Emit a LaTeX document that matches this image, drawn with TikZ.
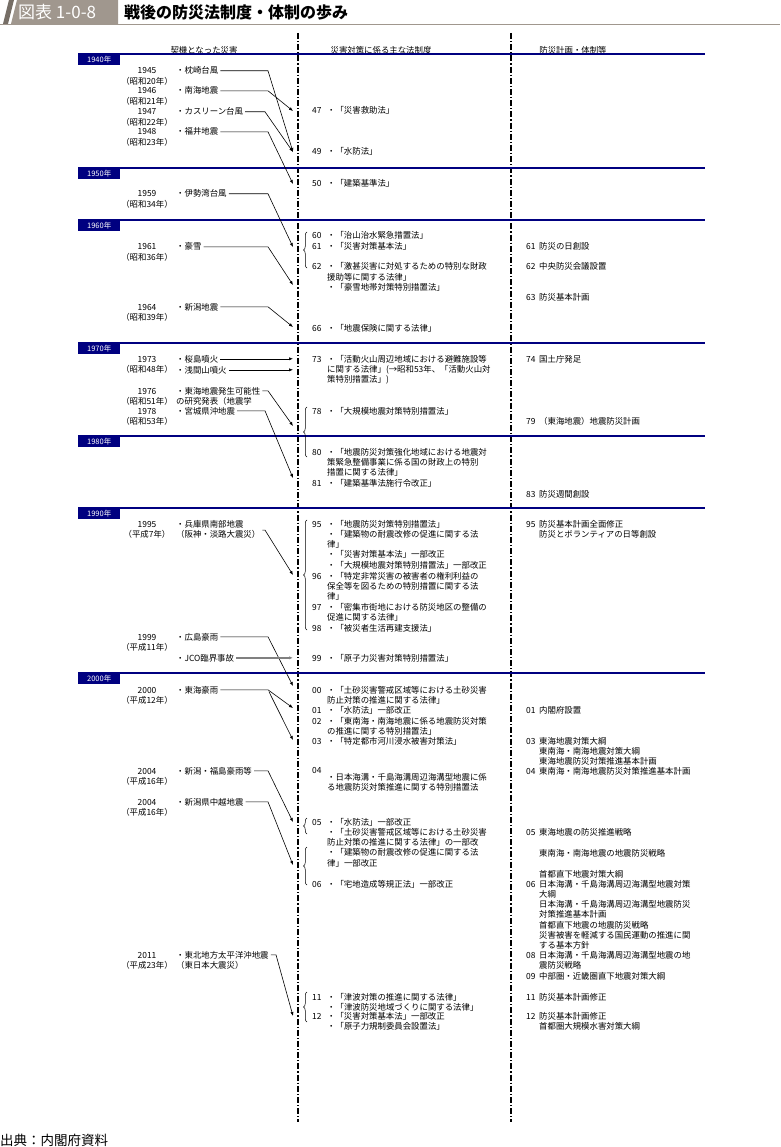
\documentclass[tikz,border=0pt]{standalone}
\usepackage{fontspec}
\setmainfont{Noto Sans CJK JP}
\usetikzlibrary{arrows.meta,decorations.pathreplacing}
\definecolor{decblue}{RGB}{0,0,128}
\definecolor{headgray}{RGB}{160,151,142}
\definecolor{headdark}{RGB}{118,110,102}
\newcommand{\yearlines}[1]{\begin{tabular}[t]{@{}c@{}}#1\end{tabular}}
\newcommand{\textlines}[1]{\begin{tabular}[t]{@{}l@{}}#1\end{tabular}}
\newcommand{\lawlines}[1]{\begin{tabular}[t]{@{}p{15pt}@{}l@{}}#1\end{tabular}}
\newcommand{\planlines}[1]{\begin{tabular}[t]{@{}p{13pt}@{}l@{}}#1\end{tabular}}
\tikzset{
  body/.style={font=\fontsize{8.4}{10.3}\selectfont, inner sep=0pt},
  txt/.style={body, anchor=base west, yshift=-3pt},
  yearlab/.style={body, anchor=base, yshift=-3pt},
  arrowline/.style={line width=0.6pt, shorten <=2pt, -{Latex[length=4pt,width=3.2pt]}},
  lawbrace/.style={decorate, decoration={brace, amplitude=3.5pt}, line width=0.5pt},
  columnsep/.style={line width=1.1pt, dash pattern=on 6pt off 2pt on 1.2pt off 2pt},
  decade/.style={fill=decblue, text=white, font=\fontsize{7.5}{8}\selectfont,
    minimum width=42pt, minimum height=11pt, inner sep=0pt, anchor=north west},
}
\begin{document}
\begin{tikzpicture}[x=1pt, y=-1pt]
\useasboundingbox (0,0) rectangle (780,1147);
% header
\fill[headgray] (11,24) -- (17,0) -- (118,0) -- (118,24) -- cycle;
\fill[headdark] (3,24) -- (9,0) -- (14,0) -- (8,24) -- cycle;
\draw[headgray, line width=0.8pt] (0,24.5) -- (780,24.5);
\node[inner sep=0pt, anchor=west, text=white, font=\fontsize{17}{18}\selectfont] (fig-no) at (18,12.5) {図表 1-0-8};
\node[inner sep=0pt, anchor=west, font=\bfseries\fontsize{16}{18}\selectfont] (fig-title) at (124,12.5) {戦後の防災法制度・体制の歩み};

% column heads and separators
\node[body] (head-cause) at (204,50) {契機となった災害};
\node[body] (head-law) at (381,50) {災害対策に係る主な法制度};
\node[body] (head-plan) at (573,50) {防災計画・体制等};
\draw[columnsep] (298,33) -- (298,1122);
\draw[columnsep] (511,33) -- (511,1122);

% decades
\foreach \y/\dec in {54/1940,168/1950,220/1960,343/1970,436/1980,508/1990,673/2000} {
  \draw[decblue, line width=2.6pt] (78,\y) -- (705,\y);
  \node[decade] (dec-\dec) at (78,\y) {\dec 年};
}

% years
\foreach \y/\yr/\era [count=\i] in {71/1945/昭和20年, 91/1946/昭和21年, 112/1947/昭和22年,
    132/1948/昭和23年, 194/1959/昭和34年, 247/1961/昭和36年, 307/1964/昭和39年,
    359/1973/昭和48年, 391/1976/昭和51年, 411/1978/昭和53年, 524/1995/平成7年,
    637/1999/平成11年, 690/2000/平成12年, 771/2004/平成16年, 802/2004/平成16年,
    955/2011/平成23年} {
  \node[yearlab] (year-\i) at (147,\y) {\yearlines{\yr\\（\era）}};
}

% disasters
\node[txt] (makurazaki) at (176,71) {・枕崎台風};
\node[txt] (nankai) at (176,91) {・南海地震};
\node[txt] (kathleen) at (176,112) {・カスリーン台風};
\node[txt] (fukui) at (176,132) {・福井地震};
\node[txt] (isewan) at (176,194) {・伊勢湾台風};
\node[txt] (gosetsu) at (176,247) {・豪雪};
\node[txt] (niigata) at (176,307) {・新潟地震};
\node[txt] (sakurajima) at (176,359) {・桜島噴火};
\node[txt] (asamayama) at (176,370) {・浅間山噴火};
\node[txt] (tokai) at (176,391) {・東海地震発生可能性};
\node[txt] (tokai-2) at (176,401) {の研究発表（地震学};
\node[txt] (miyagi) at (176,411) {・宮城県沖地震};
\node[txt] (hyogo) at (176,524) {\textlines{・兵庫県南部地震\\（阪神・淡路大震災）}};
\node[txt] (hiroshima) at (176,637) {・広島豪雨};
\node[txt] (jco) at (176,658) {・JCO臨界事故};
\node[txt] (tokaigou) at (176,690) {・東海豪雨};
\node[txt] (niifuku) at (176,771) {・新潟・福島豪雨等};
\node[txt] (chuetsu) at (176,802) {・新潟県中越地震};
\node[txt] (tohoku) at (176,955) {・東北地方太平洋沖地震};
\node[txt] (tohoku-2) at (176,965) {（東日本大震災）};

% laws
\node[txt] (law-47) at (312,111) {\lawlines{47&・「災害救助法」}};
\node[txt] (law-49) at (312,152) {\lawlines{49&・「水防法」}};
\node[txt] (law-50) at (312,184) {\lawlines{50&・「建築基準法」}};
\node[txt] (law-60) at (312,236) {\lawlines{60&・「治山治水緊急措置法」}};
\node[txt] (law-61) at (312,247) {\lawlines{61&・「災害対策基本法」}};
\node[txt] (law-62) at (312,267) {\lawlines{62&・「激甚災害に対処するための特別な財政\\&援助等に関する法律」\\&・「豪雪地帯対策特別措置法」}};
\node[txt] (law-66) at (312,328) {\lawlines{66&・「地震保険に関する法律」}};
\node[txt] (law-73) at (312,359) {\lawlines{73&・「活動火山周辺地域における避難施設等\\&に関する法律」(→昭和53年、「活動火山対\\&策特別措置法」)}};
\node[txt] (law-78) at (312,411) {\lawlines{78&・「大規模地震対策特別措置法」}};
\node[txt] (law-80) at (312,452) {\lawlines{80&・「地震防災対策強化地域における地震対\\&策緊急整備事業に係る国の財政上の特別\\&措置に関する法律」}};
\node[txt] (law-81) at (312,483) {\lawlines{81&・「建築基準法施行令改正」}};
\node[txt] (law-95) at (312,524) {\lawlines{95&・「地震防災対策特別措置法」\\&・「建築物の耐震改修の促進に関する法\\&律」\\&・「災害対策基本法」一部改正\\&・「大規模地震対策特別措置法」一部改正}};
\node[txt] (law-96) at (312,576) {\lawlines{96&・「特定非常災害の被害者の権利利益の\\&保全等を図るための特別措置に関する法\\&律」}};
\node[txt] (law-97) at (312,607) {\lawlines{97&・「密集市街地における防災地区の整備の\\&促進に関する法律」}};
\node[txt] (law-98) at (312,628) {\lawlines{98&・「被災者生活再建支援法」}};
\node[txt] (law-99) at (312,658) {\lawlines{99&・「原子力災害対策特別措置法」}};
\node[txt] (law-00) at (312,690) {\lawlines{00&・「土砂災害警戒区域等における土砂災害\\&防止対策の推進に関する法律」}};
\node[txt] (law-01) at (312,710) {\lawlines{01&・「水防法」一部改正}};
\node[txt] (law-02) at (312,721) {\lawlines{02&・「東南海・南海地震に係る地震防災対策\\&の推進に関する特別措置法」}};
\node[txt] (law-03) at (312,741) {\lawlines{03&・「特定都市河川浸水被害対策法」}};
\node[txt] (law-04) at (312,770) {04};
\node[txt] (law-04-text) at (327,777) {\textlines{・日本海溝・千島海溝周辺海溝型地震に係\\る地震防災対策推進に関する特別措置法}};
\node[txt] (law-05) at (312,822) {\lawlines{05&・「水防法」一部改正\\&・「土砂災害警戒区域等における土砂災害\\&防止対策の推進に関する法律」の一部改\\&・「建築物の耐震改修の促進に関する法\\&律」一部改正}};
\node[txt] (law-06) at (312,884) {\lawlines{06&・「宅地造成等規正法」一部改正}};
\node[txt] (law-11) at (312,997) {\lawlines{11&・「津波対策の推進に関する法律」\\&・「津波防災地域づくりに関する法律」}};
\node[txt] (law-12) at (312,1016) {\lawlines{12&・「災害対策基本法」一部改正\\&・「原子力規制委員会設置法」}};

% plans
\node[txt] (plan-61) at (526,247) {\planlines{61&防災の日創設}};
\node[txt] (plan-62) at (526,267) {\planlines{62&中央防災会議設置}};
\node[txt] (plan-63) at (526,298) {\planlines{63&防災基本計画}};
\node[txt] (plan-74) at (526,359) {\planlines{74&国土庁発足}};
\node[txt] (plan-79) at (526,421) {\planlines{79&（東海地震）地震防災計画}};
\node[txt] (plan-83) at (526,494) {\planlines{83&防災週間創設}};
\node[txt] (plan-95) at (526,524) {\planlines{95&防災基本計画全面修正\\&防災とボランティアの日等創設}};
\node[txt] (plan-01) at (526,710) {\planlines{01&内閣府設置}};
\node[txt] (plan-03) at (526,741) {\planlines{03&東海地震対策大綱\\&東南海・南海地震対策大綱\\&東海地震防災対策推進基本計画}};
\node[txt] (plan-04) at (526,771) {\planlines{04&東南海・南海地震防災対策推進基本計画}};
\node[txt] (plan-05) at (526,832) {\planlines{05&東海地震の防災推進戦略}};
\node[txt] (plan-05b) at (539,853) {東南海・南海地震の地震防災戦略};
\node[txt] (plan-05c) at (539,874) {首都直下地震対策大綱};
\node[txt] (plan-06) at (526,884) {\planlines{06&日本海溝・千島海溝周辺海溝型地震対策\\&大綱\\&日本海溝・千島海溝周辺海溝型地震防災\\&対策推進基本計画\\&首都直下地震の地震防災戦略\\&災害被害を軽減する国民運動の推進に関\\&する基本方針}};
\node[txt] (plan-08) at (526,955) {\planlines{08&日本海溝・千島海溝周辺海溝型地震の地\\&震防災戦略}};
\node[txt] (plan-09) at (526,976) {\planlines{09&中部圏・近畿圏直下地震対策大綱}};
\node[txt] (plan-11) at (526,997) {\planlines{11&防災基本計画修正}};
\node[txt] (plan-12) at (526,1016) {\planlines{12&防災基本計画修正\\&首都圏大規模水害対策大綱}};

% braces
\draw[lawbrace] (307,268) -- (307,232);
\draw[lawbrace] (307,457) -- (307,407);
\draw[lawbrace] (307,630) -- (307,520);
\draw[lawbrace] (307,834) -- (307,818);
\draw[lawbrace] (307,885) -- (307,847);
\draw[lawbrace] (307,1022) -- (307,992);

% arrow ends
\coordinate (bend) at (268,0);
\coordinate (bend-near) at (265,0);
\coordinate (bend-far) at (276,0);
\coordinate (in-47) at (293,111);
\coordinate (in-49) at (293,152);
\coordinate (in-50) at (293,184);
\coordinate (in-61) at (293,247);
\coordinate (in-62) at (293,285);
\coordinate (in-66) at (293,327);
\coordinate (in-73) at (293,359);
\coordinate (in-78) at (293,426);
\coordinate (in-81) at (293,478);
\coordinate (in-95) at (293,575);
\coordinate (in-00) at (293,686);
\coordinate (in-01) at (293,708);
\coordinate (in-03) at (293,740);
\coordinate (in-05) at (293,822);
\coordinate (in-05b) at (293,865);
\coordinate (in-12) at (293,1016);

% connectors
\draw[arrowline] (makurazaki.east) -- (makurazaki.east -| bend) -- (in-49);
\draw[arrowline] (nankai.east) -- (nankai.east -| bend) -- (in-47);
\draw[arrowline] (kathleen.east) -- (kathleen.east -| bend-near) -- (in-49);
\draw[arrowline] (fukui.east) -- (fukui.east -| bend) -- (in-50);
\draw[arrowline] (isewan.east) -- (isewan.east -| bend) -- (in-61);
\draw[arrowline] (gosetsu.east) -- (gosetsu.east -| bend) -- (in-62);
\draw[arrowline] (niigata.east) -- (niigata.east -| bend) -- (in-66);
\draw[arrowline] (sakurajima.east) -- (sakurajima.east -| in-73);
\draw[arrowline] (asamayama.east) -- (asamayama.east -| in-73);
\draw[arrowline] (tokai.east) -- (tokai.east -| bend) -- (in-78);
\draw[arrowline] (miyagi.east) -- (miyagi.east -| bend-near) -- (in-81);
\draw[arrowline] (hyogo.east) -- (hyogo.east -| bend-near) -- (in-95);
\draw[arrowline] (hiroshima.east) -- (hiroshima.east -| bend) -- (in-00);
\draw[arrowline, gray, line width=1.4pt] (jco.east) -- (jco.east -| in-73);
\draw[arrowline] (tokaigou.east) -- (tokaigou.east -| bend) -- (in-01);
\draw[arrowline] (tokaigou.east -| bend) -- (in-03);
\draw[arrowline] (niifuku.east) -- (niifuku.east -| bend) -- (in-05);
\draw[arrowline] (chuetsu.east) -- (chuetsu.east -| bend) -- (in-05b);
\draw[arrowline] (tohoku.east) -- (tohoku.east -| bend-far) -- (in-12);

% source
\node[inner sep=0pt, anchor=west, font=\fontsize{13.5}{14}\selectfont] (source) at (0,1140) {出典：内閣府資料};
\end{tikzpicture}
\end{document}
